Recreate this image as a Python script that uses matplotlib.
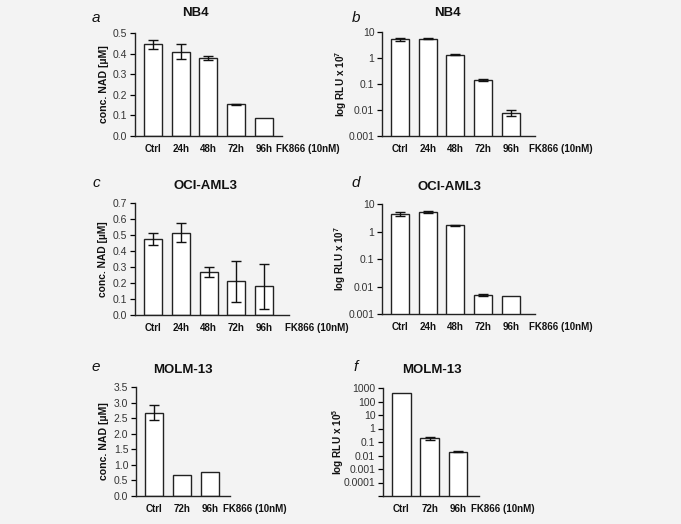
import matplotlib
matplotlib.use("Agg")
import matplotlib.pyplot as plt
from matplotlib.ticker import FixedLocator, NullLocator

plt.rcParams['font.family'] = ['Liberation Sans', 'DejaVu Sans']
plt.rcParams['mathtext.fontset'] = 'custom'
plt.rcParams['mathtext.rm'] = 'Liberation Sans:bold'
plt.rcParams['mathtext.bf'] = 'Liberation Sans:bold'

# data
labels5 = ["Ctrl", "24h", "48h", "72h", "96h"]
labels3 = ["Ctrl", "72h", "96h"]

nb4_nad = [0.445, 0.41, 0.378, 0.153, 0.088]
nb4_nad_err = [0.022, 0.037, 0.01, 0.003, 0.0]
nb4_rlu = [5.2, 5.6, 1.35, 0.14, 0.0078]
nb4_rlu_err = [0.6, 0.35, 0.1, 0.015, 0.002]

oci_nad = [0.475, 0.515, 0.27, 0.21, 0.18]
oci_nad_err = [0.04, 0.057, 0.03, 0.13, 0.14]
oci_rlu = [4.4, 5.3, 1.7, 0.005, 0.0045]
oci_rlu_err = [0.6, 0.4, 0.08, 0.0004, 0.0]

molm_nad = [2.68, 0.67, 0.78]
molm_nad_err = [0.24, 0.0, 0.0]
molm_rlu = [400.0, 0.19, 0.019]
molm_rlu_err = [0.0, 0.04, 0.002]

nad_ticks_ab = [0.0, 0.1, 0.2, 0.3, 0.4, 0.5]
nad_ticks_c = [0.0, 0.1, 0.2, 0.3, 0.4, 0.5, 0.6, 0.7]
nad_ticks_e = [0.0, 0.5, 1.0, 1.5, 2.0, 2.5, 3.0, 3.5]
log_ticks = [10, 1, 0.1, 0.01, 0.001]
log_tick_labels = ["10", "1", "0.1", "0.01", "0.001"]
log_ticks_f = [1000, 100, 10, 1, 0.1, 0.01, 0.001, 0.0001, 0.00001]
log_tick_labels_f = ["1000", "100", "10", "1", "0.1", "0.01", "0.001", "0.0001", ""]

bg = "#f3f3f3"
fig = plt.figure(figsize=(6.81, 5.24), dpi=100, facecolor=bg)

W, H = 681.0, 524.0


def make_ax(x0, y_top, x1, y_bot):
    ax = fig.add_axes([x0 / W, 1 - y_bot / H, (x1 - x0) / W, (y_bot - y_top) / H], facecolor=bg)
    ax._px = (x0, x1)
    return ax


def ylab(ax, text, size, x_px):
    ax.set_ylabel(text, fontsize=size, fontweight="bold", color="#111111")
    x0, x1 = ax._px
    ax.yaxis.set_label_coords((x_px - x0) / (x1 - x0), 0.5)


def draw(ax, cats, vals, errs, xmax, fk_x):
    xs = list(range(len(cats)))
    ax.bar(xs, vals, width=0.65, color="white", edgecolor="#222222", linewidth=1.0, zorder=2)
    ex = [x for x, e in zip(xs, errs) if e > 0]
    ev = [v for v, e in zip(vals, errs) if e > 0]
    ee = [e for e in errs if e > 0]
    if ex:
        ax.errorbar(ex, ev, yerr=ee, fmt="none", ecolor="#111111", elinewidth=1.0, capsize=3.5, capthick=1.0, zorder=3)
    ax.set_xlim(-0.65, xmax)
    ax.set_xticks(xs)
    ax.set_xticklabels(cats, fontweight="bold", fontsize=7)
    ax.tick_params(axis="x", length=0, pad=6, colors="#111111")
    ax.tick_params(axis="y", length=3.5, width=0.9, direction="out", labelsize=7.5, labelcolor="#333333", pad=2)
    for s in ["top", "right"]:
        ax.spines[s].set_visible(False)
    for s in ["left", "bottom"]:
        ax.spines[s].set_linewidth(1.0)
        ax.spines[s].set_color("#222222")
    ax.annotate("FK866 (10nM)", xy=(fk_x, 0), xycoords=("data", "axes fraction"),
                xytext=(0, -9.4), textcoords="offset points", ha="left", va="center",
                fontsize=7, fontweight="bold", color="#111111", annotation_clip=False)


def log_axis(ax, lo, hi, ticks, labels):
    ax.set_yscale("log")
    ax.set_ylim(lo, hi)
    ax.yaxis.set_major_locator(FixedLocator(ticks))
    ax.set_yticklabels(labels)
    ax.yaxis.set_minor_locator(NullLocator())


# panel a
ax = make_ax(135, 33, 282, 136)
draw(ax, labels5, nb4_nad, nb4_nad_err, 4.66, 4.45)
ax.set_ylim(0, 0.5)
ax.set_yticks(nad_ticks_ab)
ax.set_yticklabels(["%.1f" % t for t in nad_ticks_ab])
ylab(ax, "conc. NAD [µM]", 7.6, 109)

# panel b
ax = make_ax(382, 32, 535, 136)
draw(ax, labels5, nb4_rlu, nb4_rlu_err, 4.87, 4.65)
log_axis(ax, 0.001, 10, log_ticks, log_tick_labels)
ylab(ax, r"log RLU x 10$^{7}$", 7.2, 349)

# panel c
ax = make_ax(135, 203, 289, 315)
draw(ax, labels5, oci_nad, oci_nad_err, 4.9, 4.75)
ax.set_ylim(0, 0.7)
ax.set_yticks(nad_ticks_c)
ax.set_yticklabels(["%.1f" % t for t in nad_ticks_c])
ylab(ax, "conc. NAD [µM]", 7.4, 108)

# panel d
ax = make_ax(382, 204, 535, 314)
draw(ax, labels5, oci_rlu, oci_rlu_err, 4.87, 4.65)
log_axis(ax, 0.001, 10, log_ticks, log_tick_labels)
ylab(ax, r"log RLU x 10$^{7}$", 7.0, 348)

# panel e
ax = make_ax(136, 387, 230, 496)
draw(ax, labels3, molm_nad, molm_nad_err, 2.7, 2.45)
ax.set_ylim(0, 3.5)
ax.set_yticks(nad_ticks_e)
ax.set_yticklabels(["%.1f" % t for t in nad_ticks_e])
ylab(ax, "conc. NAD [µM]", 7.6, 109)

# panel f
ax = make_ax(383, 388, 479, 496)
draw(ax, labels3, molm_rlu, molm_rlu_err, 2.75, 2.45)
log_axis(ax, 0.00001, 1000, log_ticks_f, log_tick_labels_f)
ylab(ax, r"log RLU x 10$^{5}$", 7.2, 346)

# titles and panel letters
titles = [("NB4", 195, 13), ("NB4", 447, 13), ("OCI-AML3", 205, 186),
          ("OCI-AML3", 450, 187), ("MOLM-13", 183, 370), ("MOLM-13", 432, 370)]
for t, x, y in titles:
    fig.text(x / W, 1 - y / H, t, ha="center", va="center", fontsize=9.5, fontweight="bold", color="#111111")

letters = [("a", 96, 18), ("b", 356, 18), ("c", 96, 183), ("d", 356, 183), ("e", 96, 367), ("f", 356, 367)]
for t, x, y in letters:
    fig.text(x / W, 1 - y / H, t, ha="center", va="center", fontsize=11, style="italic", color="#111111")

fig.savefig("out.png", dpi=100, facecolor=bg)
